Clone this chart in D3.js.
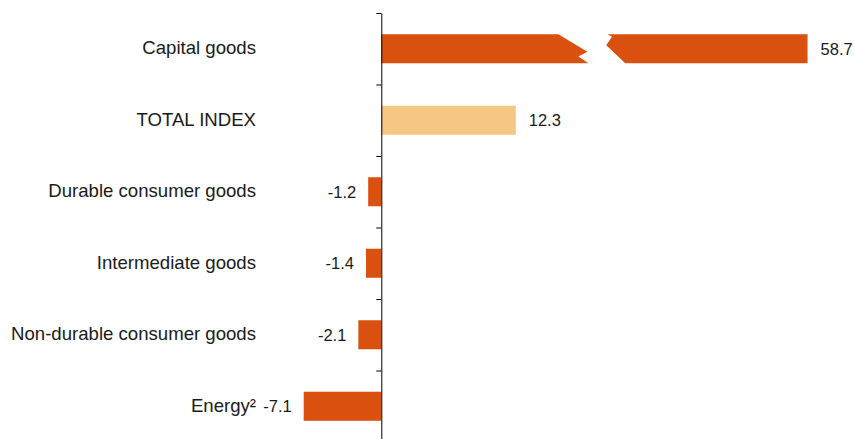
<!DOCTYPE html>
<html>
<head>
<meta charset="utf-8">
<script src="https://cdn.jsdelivr.net/npm/d3@7"></script>
<style>
    body { margin: 0; background: #fff; }
    text { font-family: "Liberation Sans", Arial, sans-serif; fill: #1a1a1a; }
</style>
</head>
<body>
<div id="chart"></div>
<script>
//
// chart data
//
const categories = ['Capital goods', 'TOTAL INDEX', 'Durable consumer goods',
    'Intermediate goods', 'Non-durable consumer goods', 'Energy\u00b2'];
const values = [58.7, 12.3, -1.2, -1.4, -2.1, -7.1];
const valueLabels = ['58.7', '12.3', '-1.2', '-1.4', '-2.1', '-7.1'];
const highlight = ['TOTAL INDEX'];

// the capital goods bar is cut: drawn to breakStart, gap, then on to shownEnd
const breakStart = 16.2;
const breakEnd = 20.7;
const shownEnd = 39.0;

window.onload = function () {
    const width = 854;
    const height = 439;

    const svg = d3.select('#chart').append('svg')
        .attr('width', width)
        .attr('height', height);

    // x scale, 10.93 px per point
    const x = d3.scaleLinear()
        .domain([-10, 40])
        .range([272, 272 + 50 * 10.93]);

    // bands for categories
    const y = d3.scaleBand()
        .domain(categories)
        .range([13, 442]);

    const barH = y.bandwidth() * 0.406;
    const data = categories.map((c, i) => ({name: c, val: values[i], label: valueLabels[i]}));

    const orange = '#d9500f';
    const light = '#f5c684';

    const g = svg.append('g');

    // normal bars
    g.selectAll('rect.bar')
        .data(data.filter(d => d.val < breakStart))
        .join('rect')
        .attr('class', 'bar')
        .attr('x', d => x(Math.min(0, d.val)))
        .attr('y', d => y(d.name) + (y.bandwidth() - barH) / 2)
        .attr('width', d => Math.abs(x(d.val) - x(0)))
        .attr('height', barH)
        .attr('fill', d => highlight.includes(d.name) ? light : orange);

    // broken bar(s)
    data.filter(d => d.val >= breakStart).forEach(d => {
        const t = y(d.name) + (y.bandwidth() - barH) / 2;
        const b = t + barH;
        const h = barH;
        const x0 = x(0), xa = x(breakStart), xb = x(breakEnd), xe = x(shownEnd);
        const left = [[x0, t], [xa, t], [xa + 29, t + 0.6 * h], [xa + 20, t + 0.77 * h],
            [xa + 30, b], [x0, b]];
        const right = [[xb, t], [xb + 4.4, t + 0.09 * h], [xb - 1.3, t + 0.38 * h],
            [xb + 17.7, b], [xe, b], [xe, t]];
        [left, right].forEach(p => {
            g.append('polygon')
                .attr('points', p.map(q => q.join(',')).join(' '))
                .attr('fill', orange);
        });
    });

    // value labels
    g.selectAll('text.val')
        .data(data)
        .join('text')
        .attr('class', 'val')
        .attr('x', d => d.val >= 0 ? x(Math.min(d.val, shownEnd)) + 13 : x(d.val) - 12)
        .attr('y', d => y(d.name) + y.bandwidth() / 2)
        .attr('dy', '0.36em')
        .attr('text-anchor', d => d.val >= 0 ? 'start' : 'end')
        .style('font-size', '16.5px')
        .text(d => d.label);

    // category labels
    g.selectAll('text.cat')
        .data(data)
        .join('text')
        .attr('class', 'cat')
        .attr('x', 256)
        .attr('y', d => y(d.name) + y.bandwidth() / 2 - 1)
        .attr('dy', '0.36em')
        .attr('text-anchor', 'end')
        .style('font-size', '18.6px')
        .text(d => d.name);

    // vertical axis at zero with ticks on band edges
    const edges = d3.scaleLinear()
        .domain([0, categories.length])
        .range(y.range());

    const axis = svg.append('g')
        .attr('transform', `translate(${x(0)}, 0)`)
        .call(d3.axisLeft(edges)
            .ticks(categories.length)
            .tickSize(5)
            .tickSizeOuter(0)
            .tickFormat(''));
    axis.select('.domain').attr('stroke', '#000');
    axis.selectAll('.tick line').attr('stroke', '#000');
}
</script>
</body>
</html>
